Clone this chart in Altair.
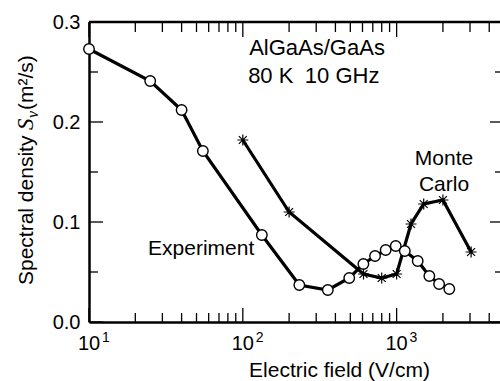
import altair as alt
import pandas as pd

# ---- data ----
exp_field = [10, 25, 40, 55, 133, 233, 357, 492, 608, 724, 849, 987, 1130, 1371, 1632, 1888, 2200]
exp_sv = [0.273, 0.241, 0.212, 0.171, 0.087, 0.037, 0.032, 0.044, 0.058, 0.066, 0.072, 0.076, 0.071, 0.061, 0.046, 0.038, 0.033]

mc_field = [100, 200, 609, 800, 1000, 1240, 1500, 2000, 3050]
mc_sv = [0.182, 0.110, 0.048, 0.044, 0.048, 0.098, 0.118, 0.122, 0.070]

x_major = [10, 100, 1000]
x_minor = [20, 30, 40, 50, 60, 70, 80, 90, 200, 300, 400, 500, 600, 700, 800, 900, 2000, 3000, 4000]
y_major = [0.0, 0.1, 0.2, 0.3]
y_minor = [0.05, 0.15, 0.25]
x_label_base = ["10", "10", "10"]
x_label_exp = ["1", "2", "3"]

ann_left_text = ["AlGaAs/GaAs", "80 K", "10 GHz"]
ann_left_x = [110, 108.3, 253]
ann_left_y = [0.2667, 0.2387, 0.2387]
ann_center_text = ["Experiment", "Monte", "Carlo"]
ann_center_x = [53.6, 2032, 2032]
ann_center_y = [0.0667, 0.1567, 0.1307]

W, H = 411, 300
FONT = "Liberation Sans"
SERIF = "Liberation Serif"
STAR = "M-1,0L1,0M0,-1L0,1M-0.72,-0.72L0.72,0.72M-0.72,0.72L0.72,-0.72"

xs = alt.Scale(type="log", domain=[10, 4700])
ys = alt.Scale(domain=[0, 0.3])

exp_df = pd.DataFrame({"field": exp_field, "sv": exp_sv})
mc_df = pd.DataFrame({"field": mc_field, "sv": mc_sv})

x_axis = alt.Axis(domain=True, domainColor="black", domainWidth=2.5, ticks=False,
                  labels=False, grid=False, title="Electric field (V/cm)",
                  titleFont=FONT, titleFontSize=21, titleFontWeight="normal",
                  titleColor="black", titleX=250, titleY=54,
                  titleBaseline="alphabetic", titleAlign="center")
y_axis = alt.Axis(domain=True, domainColor="black", domainWidth=2.5, ticks=False,
                  grid=False, values=y_major, format=".1f", labelFont=FONT,
                  labelFontSize=20, labelColor="black", labelPadding=9, title=None)


def X(f):
    return alt.X(f, scale=xs, axis=x_axis)


def Y(f):
    return alt.Y(f, scale=ys, axis=y_axis)


mc_line = alt.Chart(mc_df).mark_line(color="black", strokeWidth=3.2).encode(
    x=X("field:Q"), y=Y("sv:Q"))
exp_line = alt.Chart(exp_df).mark_line(color="black", strokeWidth=3.2).encode(
    x=X("field:Q"), y=Y("sv:Q"))
exp_pts = alt.Chart(exp_df).mark_point(shape="circle", filled=True, fill="white",
                                       stroke="black", strokeWidth=1.4, size=110,
                                       opacity=1).encode(x=X("field:Q"), y=Y("sv:Q"))
mc_pts = alt.Chart(mc_df).mark_point(shape=STAR, filled=False, stroke="black",
                                     strokeWidth=1.2, size=120, opacity=1).encode(
    x=X("field:Q"), y=Y("sv:Q"))


def xrule(vals, y1, y2):
    return alt.Chart(pd.DataFrame({"v": vals})).mark_rule(color="black", strokeWidth=1.3).encode(
        x=X("v:Q"), y=alt.value(y1), y2=alt.value(y2))


def yrule(vals, x1, x2):
    return alt.Chart(pd.DataFrame({"v": vals})).mark_rule(color="black", strokeWidth=1.3).encode(
        y=Y("v:Q"), x=alt.value(x1), x2=alt.value(x2))


ticks = [
    xrule(x_major, 0, 15), xrule(x_minor, 0, 10),
    xrule(x_major, H, H - 14), xrule(x_minor, H, H - 9),
    yrule(y_major, 0, 14), yrule(y_minor, 0, 9),
    yrule(y_major, W - 10, W), yrule(y_minor, W - 5, W),
]

top_border = alt.Chart(pd.DataFrame({"a": [0]})).mark_rule(color="black", strokeWidth=2.5).encode(
    x=alt.value(0), x2=alt.value(W), y=alt.value(0))

lab_df = pd.DataFrame({"v": x_major, "base": x_label_base, "exp": x_label_exp})
x_lab = alt.Chart(lab_df).mark_text(font=FONT, fontSize=20, color="black", align="center",
                                    baseline="alphabetic").encode(
    x=X("v:Q"), y=alt.value(H + 28), text="base:N")
x_sup = alt.Chart(lab_df).mark_text(font=FONT, fontSize=14, color="black", align="left",
                                    baseline="alphabetic", dx=13).encode(
    x=X("v:Q"), y=alt.value(H + 20), text="exp:N")

ann_l = alt.Chart(pd.DataFrame({"x": ann_left_x, "y": ann_left_y, "t": ann_left_text})).mark_text(
    font=FONT, fontSize=22, color="black", align="left", baseline="alphabetic").encode(
    x=X("x:Q"), y=Y("y:Q"), text="t:N")
ann_c = alt.Chart(pd.DataFrame({"x": ann_center_x, "y": ann_center_y, "t": ann_center_text})).mark_text(
    font=FONT, fontSize=21, color="black", align="center", baseline="alphabetic").encode(
    x=X("x:Q"), y=Y("y:Q"), text="t:N")


def ytitle(txt, x, y, font, size, style="normal"):
    return alt.Chart(pd.DataFrame({"t": [txt]})).mark_text(
        font=font, fontSize=size, fontStyle=style, color="black", align="left",
        baseline="alphabetic", angle=270).encode(
        x=alt.value(x), y=alt.value(y), text="t:N")


ytitles = [
    ytitle("Spectral density", -56, 263, FONT, 21),
    ytitle("S", -56, 108, SERIF, 23, "italic"),
    ytitle("v", -51, 96, SERIF, 16, "italic"),
    ytitle("(m²/s)", -56, 88, FONT, 21),
]

chart = alt.layer(
    mc_line, exp_line, *ticks, top_border, exp_pts, mc_pts, x_lab, x_sup, ann_l, ann_c, *ytitles
).properties(
    width=W, height=H,
    padding={"left": 89, "top": 22, "right": 0, "bottom": 59},
    autosize=alt.AutoSizeParams(type="none"),
    background="white",
).configure_view(stroke=None)

chart.save("out.html", embed_options={"renderer": "svg", "actions": False})
